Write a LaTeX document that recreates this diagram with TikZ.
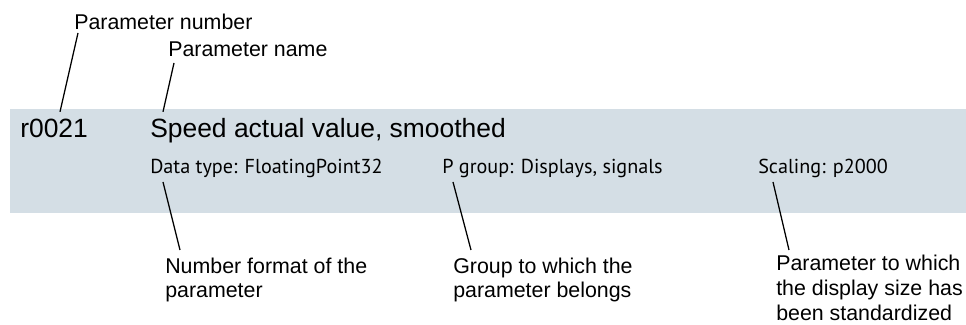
\documentclass[tikz,border=0pt]{standalone}
\usepackage{fontspec}
\setmainfont{Liberation Sans}
\newfontfamily\myriadlike{PT Sans}
\usepackage{xcolor}
\usepackage{tikz}
\definecolor{PLBand}{HTML}{D4DEE5}
\definecolor{PLInk}{HTML}{000000}

\begin{document}
\begin{tikzpicture}[x=1cm,y=1cm,
  callout/.style={anchor=base west,inner sep=0pt,align=left,font=\fontsize{15.2}{17.6}\selectfont},
  headtext/.style={anchor=base west,inner sep=0pt,font=\fontsize{18.8}{22}\selectfont},
  attrtext/.style={anchor=base west,inner sep=0pt,font=\myriadlike\fontsize{14.35}{17}\selectfont},
  pinline/.style={PLInk,line width=0.9pt}]
\path[use as bounding box] (0,0) rectangle (24.15,8.125);
\fill[PLBand] (0.25,2.80) rectangle (24.15,5.40);
% labels above the band
\node[callout] (pnum) at (1.85,7.375) {Parameter number};
\node[callout] (pname) at (4.20,6.70) {Parameter name};
% parameter header
\node[headtext] (rnum) at (0.50,4.68) {r0021};
\node[headtext] (rtitle) at (3.75,4.68) {Speed actual value, smoothed};
\node[attrtext] (dtype) at (3.75,3.775) {Data type: FloatingPoint32};
\node[attrtext] (pgroup) at (11.05,3.775) {P group: Displays, signals};
\node[attrtext] (scaling) at (18.95,3.775) {Scaling: p2000};
% labels below the band (base = last line)
\node[callout] (fmtnote) at (4.125,0.68) {Number format of the\\parameter};
\node[callout] (grpnote) at (11.325,0.68) {Group to which the\\parameter belongs};
\node[callout] (sclnote) at (19.40,0.12) {Parameter to which\\the display size has\\been standardized};
% pointer ends
\coordinate (pnumtop) at (1.95,7.30);
\coordinate (pnumend) at (1.50,5.33);
\coordinate (pnametop) at (4.35,6.55);
\coordinate (pnameend) at (4.075,5.33);
\coordinate (dtypetop) at (4.075,3.575);
\coordinate (pgrouptop) at (11.325,3.575);
\coordinate (scalingtop) at (19.325,3.575);
\coordinate (fmtend) at (4.50,1.875);
\coordinate (grpend) at (11.775,1.875);
\coordinate (sclend) at (19.725,1.875);
\draw[pinline] (pnumtop) -- (pnumend);
\draw[pinline] (pnametop) -- (pnameend);
\draw[pinline] (dtypetop) -- (fmtend);
\draw[pinline] (pgrouptop) -- (grpend);
\draw[pinline] (scalingtop) -- (sclend);
\end{tikzpicture}
\end{document}
